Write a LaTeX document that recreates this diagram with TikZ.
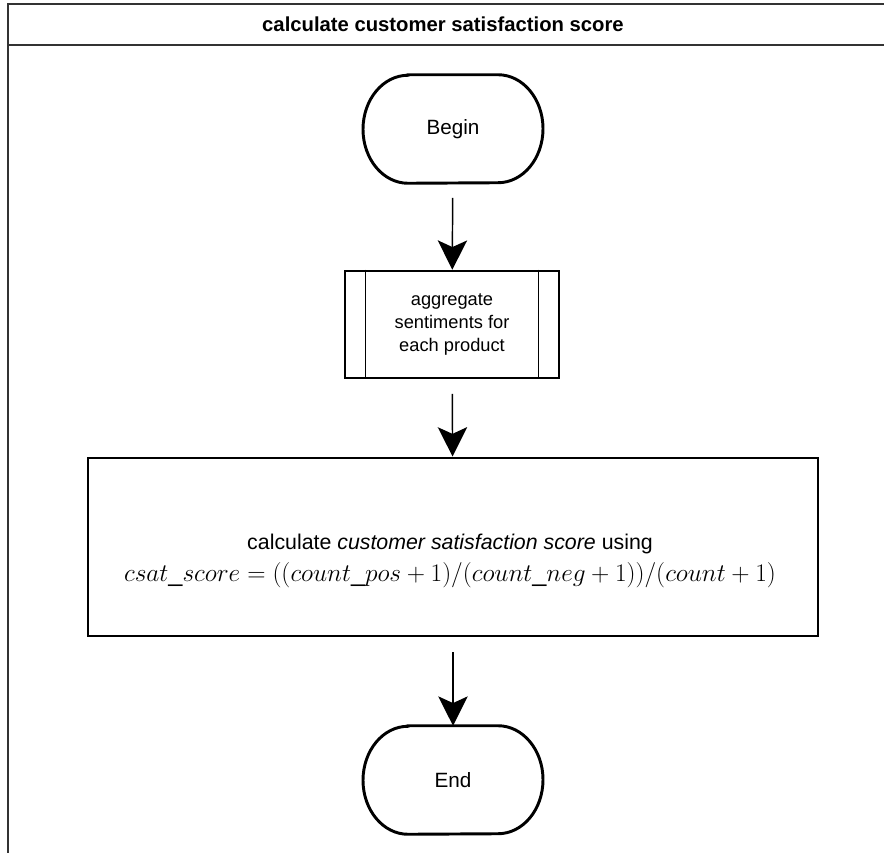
\documentclass[tikz,border=0pt]{standalone}
\usepackage{graphicx}
\usepackage{fontspec}
\setmainfont{Liberation Sans}
\usetikzlibrary{arrows.meta}

\begin{document}
\begin{tikzpicture}[x=0.75pt,y=-0.75pt,
  frameline/.style={draw=black!80,line width=1.5pt},
  termbox/.style={minimum width=135pt,minimum height=81pt,inner sep=0pt,
    font=\fontsize{15.5}{18}\selectfont},
  termline/.style={line width=2.2pt},
  subbox/.style={draw,line width=1.9pt,minimum width=160.5pt,minimum height=80.25pt,
    inner sep=0pt,align=center,font=\fontsize{13.7}{17.3}\selectfont},
  procbox/.style={draw,line width=2.2pt,minimum width=547.5pt,minimum height=133.5pt,
    inner sep=0pt},
  proctext/.style={align=center,inner sep=0pt,font=\fontsize{16}{23}\selectfont},
  flow/.style={line width=1.1pt,-{Stealth[length=22pt,width=22pt,inset=5pt]},
    shorten <=11pt}
]
\useasboundingbox (0,0) rectangle (884,852);

% swimlane frame with its title bar
\draw[frameline] (890,4) -- (8,4) -- (8,860);
\draw[frameline] (8,45) -- (890,45);
\node[font=\bfseries\fontsize{15.2}{18}\selectfont] (title) at (443,24)
  {calculate customer satisfaction score};

% terminals: straight top and bottom with elliptical ends
\newcommand\terminaloutline[1]{%
  \draw[termline] ([xshift=-33.75pt]#1.north) -- ([xshift=33.75pt]#1.north)
    arc[start angle=90,end angle=-90,x radius=33.75pt,y radius=40.5pt]
    -- ([xshift=-33.75pt]#1.south)
    arc[start angle=270,end angle=90,x radius=33.75pt,y radius=40.5pt] -- cycle;}

\node[termbox] (begin) at (453,129) {Begin};
\terminaloutline{begin}

\node[subbox] (agg) at (452,324.5) {aggregate\\sentiments for\\each product};
\draw[line width=1pt] ([xshift=16.5pt]agg.north west) -- ([xshift=16.5pt]agg.south west);
\draw[line width=1pt] ([xshift=-16.5pt]agg.north east) -- ([xshift=-16.5pt]agg.south east);

\node[procbox] (calc) at (453,547) {};
\node[proctext] (calctext) at (450,561)
  {calculate \textit{customer satisfaction score} using\\[1pt]
   {\fontsize{17.28}{21}\selectfont\scalebox{1.1}{$csat\_score=((count\_pos+1)/(count\_neg+1))/(count+1)$}}};

\node[termbox] (end) at (453,780) {End};
\terminaloutline{end}

\draw[flow] (begin) -- (agg);
\draw[flow] (agg) -- (calc);
\draw[flow] (calc) -- (end);
\end{tikzpicture}
\end{document}
